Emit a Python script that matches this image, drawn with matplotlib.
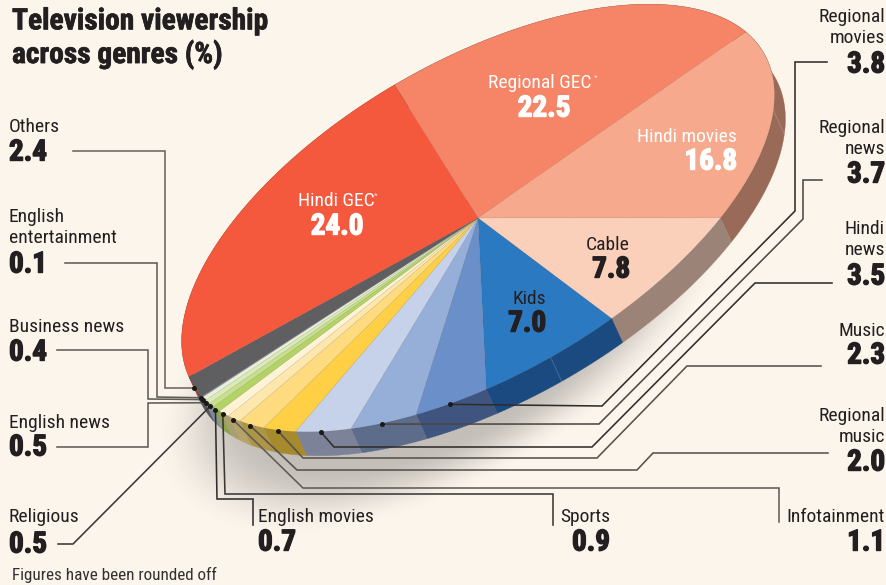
import numpy as np
import matplotlib
matplotlib.use('Agg')
import matplotlib.pyplot as plt
import matplotlib.patheffects as pe
from matplotlib.transforms import Affine2D

# data, clockwise from the top of the pie
genres = ['Regional GEC', 'Hindi movies', 'Cable', 'Kids', 'Regional movies', 'Regional news',
          'Hindi news', 'Music', 'Regional music', 'Infotainment', 'Sports', 'English movies',
          'Religious', 'English news', 'Business news', 'English entertainment', 'Others', 'Hindi GEC']
values = [22.5, 16.8, 7.8, 7.0, 3.8, 3.7, 3.5, 2.3, 2.0, 1.1, 0.9, 0.7, 0.5, 0.5, 0.4, 0.1, 2.4, 24.0]

top_colors = ['#f68467', '#f6a98c', '#fbd0bb', '#2b79c0', '#6a8fc9', '#95afd8', '#c5d2e9', '#ffcf45',
              '#fddb7e', '#fee7ac', '#fff3d5', '#b3d465', '#c8df8e', '#dbe8b8', '#e8f0d5', '#9b8fc4',
              '#5f5f61', '#f4593d']
side_colors = ['#9a6a58', '#9a6a58', '#9c8378', '#1a4a7f', '#3f5580', '#5d6c8a', '#7c8298', '#a68a2c',
               '#ad9548', '#b6a36a', '#a8a070', '#8aa446', '#8b9a7c', '#7f8598', '#7f8598', '#6f6f88',
               '#55555a', '#c04530']

# outside labels
out_names = ['Regional\nmovies', 'Regional\nnews', 'Hindi\nnews', 'Music', 'Regional\nmusic', 'Infotainment',
             'Sports', 'English movies', 'Religious', 'English news', 'Business news',
             'English\nentertainment', 'Others']
out_genres = genres[4:17]
out_x = [885, 885, 885, 885, 885, 885, 610, 258, 9, 9, 9, 9, 9]
out_ha = ['right'] * 7 + ['left'] * 6
out_name_y = [26, 137, 238, 329, 425, 516, 516, 516, 516, 421, 326, 226, 126]
out_value_y = [63, 173, 275, 354, 461, 541, 541, 541, 543, 446, 351, 263, 151]

# leader lines: where each one bends after its dot, going out to the label
leader_paths = [
    [(602, 406), (795, 211), (795, 62), (827, 62)],
    [(599, 424), (803, 219), (803, 180), (822, 180)],
    [(334, 447), (592, 447), (755, 283), (832, 283)],
    [(303, 458), (597, 458), (687, 366), (821, 366)],
    [(297, 470), (637, 470), (653, 453), (828, 453)],
    [(303, 488), (779, 488), (779, 522)],
    [(225, 494), (553, 494), (553, 525)],
    [(217, 499), (253, 499), (253, 525)],
    [(73, 544), (58, 544)],
    [(148, 403), (148, 447), (57, 447)],
    [(148, 399), (148, 350), (57, 350)],
    [(157, 397), (157, 263), (65, 263)],
    [(165, 388), (165, 151), (73, 151)],
]
leader_colors = ['#2f2d2b', '#4b4845', '#2f2d2b', '#55514d', '#55514d', '#5f5b57', '#3a3836',
                 '#2f2d2b', '#3a3836', '#5f5b57', '#5f5b57', '#5f5b57', '#6a6662']

BG = '#fcf5ec'
INK = '#231f20'
CX, CY = 478, 218
A, B = 330, 157
TILT = -30
START = -91
DX, DY = 11, 24
NARROW = 'Roboto Condensed'

fig = plt.figure(figsize=(8.87, 5.85), dpi=100, facecolor=BG)
ax = fig.add_axes([0, 0, 1, 1])

disc = Affine2D().scale(A, B).rotate_deg(TILT).translate(CX, CY)


def on_disc(deg):
    t = np.radians(deg)
    return disc.transform(np.column_stack([np.cos(t), np.sin(t)]))


# soft shadow under the pie
gx, gy = np.meshgrid(np.linspace(100, 800, 350), np.linspace(200, 585, 190))
c, s = np.cos(np.radians(TILT)), np.sin(np.radians(TILT))
u = (gx - 445) * c + (gy - 325) * s
v = -(gx - 445) * s + (gy - 325) * c
d = np.sqrt((u / 265) ** 2 + (v / 130) ** 2)
f = np.clip((1.22 - d) / 0.4, 0, 1)
rgba = np.zeros(d.shape + (4,))
rgba[..., :3] = 0.25
rgba[..., 3] = 0.3 * f * f * (3 - 2 * f)
ax.imshow(rgba, extent=(100, 800, 585, 200), aspect='auto', interpolation='bilinear', zorder=1)

# side wall
fracs = np.array(values) / sum(values) * 360
edges = START + np.concatenate([[0], np.cumsum(fracs)])
for i, col in enumerate(side_colors):
    arc = on_disc(np.linspace(edges[i], edges[i + 1], 60))
    wall = np.vstack([arc, arc[::-1] + [DX, DY]])
    ax.fill(wall[:, 0], wall[:, 1], color=col, lw=0.3, zorder=2)

# big slices have a faint seam half way along the wall
for i in [1, 3]:
    p = on_disc(np.array([(edges[i] + edges[i + 1]) / 2]))[0]
    ax.plot([p[0], p[0] + DX], [p[1], p[1] + DY], color='#ffffff', alpha=0.18, lw=0.7, zorder=3)

# top face
wedges, _ = ax.pie(values, colors=top_colors, startangle=START, counterclock=True,
                   wedgeprops=dict(lw=0.25, edgecolor='#00000022'))
for w in wedges:
    w.set_transform(disc + ax.transData)
    w.set_zorder(4)

ax.set_xlim(0, 887)
ax.set_ylim(585, 0)
ax.set_aspect('auto')
ax.axis('off')

# leader lines and their dots
mids = (edges[:-1] + edges[1:]) / 2
for i, g in enumerate(out_genres):
    k = genres.index(g)
    dot = on_disc(np.array([mids[k]]))[0] + [-1, 1]
    pts = np.array([dot] + leader_paths[i])
    ax.plot(pts[:, 0], pts[:, 1], color=leader_colors[i], lw=1.15, solid_joinstyle='miter', zorder=6)
    ax.plot(dot[0], dot[1], 'o', ms=3.6, color='#1a1818', mew=0, zorder=7)


def name_text(x, y, txt, ha='left', col=INK, size=14):
    return ax.text(x, y + 1.5, txt, ha=ha, va='center', color=col, fontsize=size, family=NARROW,
                   linespacing=1.22, zorder=8)


def value_text(x, y, txt, ha='left', col=INK, size=21):
    t = ax.text(x, y + 1.5, txt, ha=ha, va='center', color=col, fontsize=size, family=NARROW,
                fontweight=900, zorder=8)
    t.set_path_effects([pe.withStroke(linewidth=1.0, foreground=col)])
    return t


for i, g in enumerate(out_genres):
    name_text(out_x[i], out_name_y[i], out_names[i], ha=out_ha[i])
    value_text(out_x[i], out_value_y[i], f'{values[genres.index(g)]:.1f}', ha=out_ha[i])

# labels inside the pie
name_text(336, 199, 'Hindi GEC', ha='center', col='white')
ax.text(376, 196, '*', ha='center', va='center', color='#fbe3d8', fontsize=6, family=NARROW, zorder=8)
value_text(337, 225, f'{values[genres.index("Hindi GEC")]:.1f}', ha='center', col='white')
name_text(540, 81, 'Regional GEC', ha='center', col='white')
ax.text(596, 78, '*', ha='center', va='center', color='#fbe3d8', fontsize=6, family=NARROW, zorder=8)
value_text(544, 107, f'{values[genres.index("Regional GEC")]:.1f}', ha='center', col='white')
name_text(737, 136, 'Hindi movies', ha='right', col='white')
value_text(737, 160, f'{values[genres.index("Hindi movies")]:.1f}', ha='right', col='white')
name_text(630, 243, 'Cable', ha='right')
value_text(630, 268, f'{values[genres.index("Cable")]:.1f}', ha='right')
name_text(546, 297, 'Kids', ha='right')
value_text(546, 322, f'{values[genres.index("Kids")]:.1f}', ha='right')

# title and footnote
title = ax.text(12, 38.5, 'Television viewership\nacross genres (%)', ha='left', va='center', color=INK,
                fontsize=21.2, family=NARROW, fontweight=900, linespacing=1.18, zorder=8)
title.set_path_effects([pe.withStroke(linewidth=0.5, foreground=INK)])
ax.text(12, 575, 'Figures have been rounded off', ha='left', va='center', color='#333031',
        fontsize=12.3, family=NARROW, zorder=8)

fig.savefig('out.png', dpi=100, facecolor=BG)
